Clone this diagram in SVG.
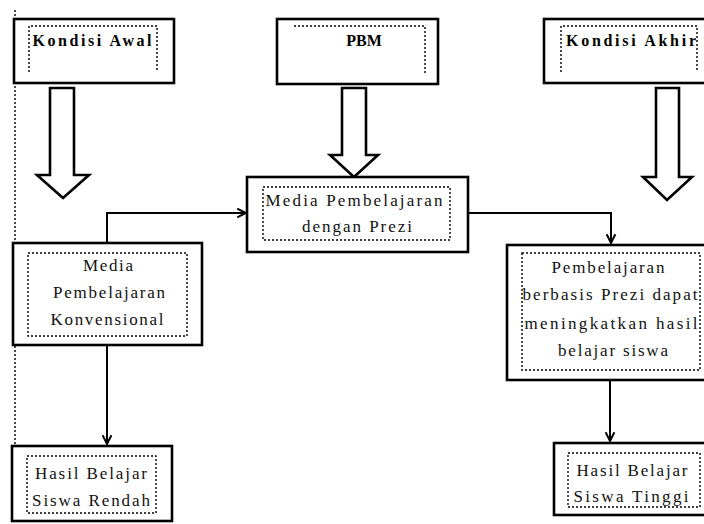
<svg xmlns="http://www.w3.org/2000/svg" width="704" height="524" viewBox="0 0 704 524">
<defs>
<style>
.box{fill:#fff;stroke:#000;stroke-width:2.6}
.dot{fill:none;stroke:#000;stroke-width:1.4;stroke-dasharray:2 2}
.blk{fill:#fff;stroke:#000;stroke-width:2.6;stroke-linejoin:miter}
.hd{font-family:'Liberation Serif','Times New Roman',serif;font-weight:bold;font-size:16px;fill:#000}
.tx{font-family:'Liberation Serif','Times New Roman',serif;font-size:17px;fill:#111}
.ln{fill:none;stroke:#000;stroke-width:2}
</style>
<marker id="ah" viewBox="0 0 10 10" refX="9" refY="5" markerWidth="11" markerHeight="11" orient="auto" markerUnits="userSpaceOnUse">
<path d="M1,1 L9,5 L1,9" fill="none" stroke="#000" stroke-width="1.8"/>
</marker>
</defs>
<line x1="15" y1="10" x2="15" y2="446" stroke="#000" stroke-width="1.4" stroke-dasharray="2 2"/>
<g id="kondisi-awal">
<rect class="box" x="14" y="19" width="160" height="64"/>
<path class="dot" d="M29,72 V26 H157 V72"/>
<text class="hd" x="92" y="46" text-anchor="middle" textLength="119" lengthAdjust="spacing">Kondisi Awal</text>
</g>
<g id="pbm">
<rect class="box" x="277" y="19" width="161" height="65"/>
<path class="dot" d="M294,26 H425 V73"/>
<text class="hd" x="364" y="46" text-anchor="middle">PBM</text>
</g>
<g id="kondisi-akhir">
<rect class="box" x="544" y="19" width="164" height="64"/>
<path class="dot" d="M561,72 V26 H697 V72"/>
<text class="hd" x="631" y="46" text-anchor="middle" textLength="130" lengthAdjust="spacing">Kondisi Akhir</text>
</g>
<g id="arrows-block">
<path class="blk" d="M50,88 H74 V175 H89 L63,198 L37,175 H50 Z"/>
<path class="blk" d="M342,88 H366 V155 H378 L354,177 L330,155 H342 Z"/>
<path class="blk" d="M656,88 H679 V177 H692 L667,200 L643,177 H656 Z"/>
</g>
<g id="media-prezi">
<rect class="box" x="247" y="177" width="221" height="75"/>
<rect class="dot" x="263" y="187" width="187" height="53"/>
<text class="tx" x="354" y="206" text-anchor="middle" textLength="177" lengthAdjust="spacing">Media Pembelajaran</text>
<text class="tx" x="357" y="232" text-anchor="middle" textLength="110" lengthAdjust="spacing">dengan Prezi</text>
</g>
<g id="media-konvensional">
<rect class="box" x="13" y="243" width="189" height="102"/>
<rect class="dot" x="28" y="253" width="159" height="83"/>
<text class="tx" x="108" y="271" text-anchor="middle" textLength="50" lengthAdjust="spacing">Media</text>
<text class="tx" x="109" y="298" text-anchor="middle" textLength="112" lengthAdjust="spacing">Pembelajaran</text>
<text class="tx" x="107" y="325" text-anchor="middle" textLength="113" lengthAdjust="spacing">Konvensional</text>
</g>
<g id="pembelajaran-prezi">
<rect class="box" x="507" y="245" width="202" height="135"/>
<rect class="dot" x="522" y="253" width="178" height="117"/>
<text class="tx" x="608" y="273" text-anchor="middle" textLength="113" lengthAdjust="spacing">Pembelajaran</text>
<text class="tx" x="610" y="300" text-anchor="middle" textLength="175" lengthAdjust="spacing">berbasis Prezi dapat</text>
<text class="tx" x="611" y="329" text-anchor="middle" textLength="173" lengthAdjust="spacing">meningkatkan hasil</text>
<text class="tx" x="613" y="356" text-anchor="middle" textLength="110" lengthAdjust="spacing">belajar siswa</text>
</g>
<g id="hasil-rendah">
<rect class="box" x="12" y="446" width="160" height="75"/>
<rect class="dot" x="27" y="456" width="129" height="57"/>
<text class="tx" x="91" y="479" text-anchor="middle" textLength="112" lengthAdjust="spacing">Hasil Belajar</text>
<text class="tx" x="91" y="506" text-anchor="middle" textLength="118" lengthAdjust="spacing">Siswa Rendah</text>
</g>
<g id="hasil-tinggi">
<rect class="box" x="554" y="443" width="154" height="72"/>
<rect class="dot" x="568" y="453" width="132" height="54"/>
<text class="tx" x="632" y="476" text-anchor="middle" textLength="111" lengthAdjust="spacing">Hasil Belajar</text>
<text class="tx" x="631" y="502" text-anchor="middle" textLength="115" lengthAdjust="spacing">Siswa Tinggi</text>
</g>
<g id="connectors">
<path class="ln" d="M107,242 V213 H246" marker-end="url(#ah)"/>
<path class="ln" d="M469,213 H611 V243" marker-end="url(#ah)"/>
<path class="ln" d="M107,346 V444" marker-end="url(#ah)"/>
<path class="ln" d="M610,381 V441" marker-end="url(#ah)"/>
</g>
</svg>
